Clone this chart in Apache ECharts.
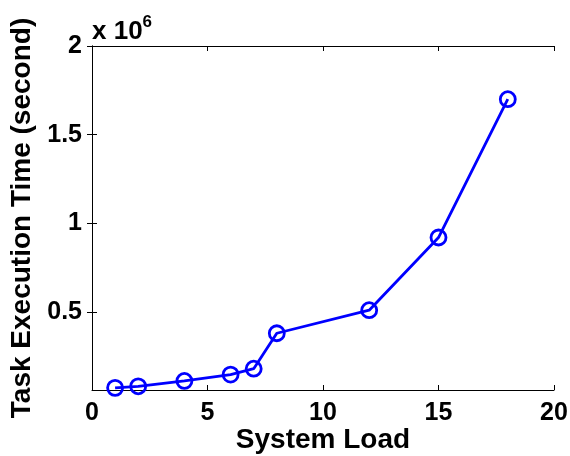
<!DOCTYPE html>
<html>
<head>
<meta charset="utf-8">
<script src="https://cdn.jsdelivr.net/npm/echarts@6/dist/echarts.min.js"></script>
<style>
  html, body { margin: 0; padding: 0; background: #fff; }
  #chart { width: 570px; height: 456px; }
</style>
</head>
<body>
<div id="chart"></div>
<script>
// System load levels and the measured task execution time (seconds)
const systemLoad = [1, 2, 4, 6, 7, 8, 12, 15, 18];
const execTime = [72000, 81000, 111000, 147000, 180000, 380000, 510000, 920000, 1700000];
const yTickValues = [500000, 1000000, 1500000, 2000000];

const FONT = '"Liberation Sans", Arial, Helvetica, sans-serif';
const BLUE = '#0000ff';

const chart = echarts.init(document.getElementById('chart'), null, { renderer: 'canvas' });

const axisLineStyle = { show: true, lineStyle: { color: '#000', width: 1 } };
const tickStyle = { show: true, inside: true, length: 5, lineStyle: { color: '#000', width: 1 } };

chart.setOption({
  animation: false,
  backgroundColor: '#fff',
  grid: { left: 92, right: 16, top: 46, bottom: 66, outerBoundsMode: 'none', containLabel: false },
  xAxis: [
    {
      type: 'value', min: 0, max: 20, interval: 5, position: 'bottom',
      name: 'System Load', nameLocation: 'middle', nameGap: 36, nameMoveOverlap: false,
      nameTextStyle: { fontFamily: FONT, fontWeight: 'bold', fontSize: 28, color: '#000' },
      axisLine: axisLineStyle,
      axisTick: tickStyle,
      splitLine: { show: false },
      axisLabel: { fontFamily: FONT, fontWeight: 'bold', fontSize: 25, color: '#000', margin: 11 }
    },
    {
      type: 'value', min: 0, max: 20, interval: 5, position: 'top',
      axisLine: axisLineStyle, axisTick: tickStyle,
      splitLine: { show: false }, axisLabel: { show: false }
    }
  ],
  yAxis: [
    {
      type: 'value', min: 60000, max: 2000000, position: 'left',
      name: 'Task Execution Time (second)', nameLocation: 'middle', nameGap: 50,
      nameTextStyle: { fontFamily: FONT, fontWeight: 'bold', fontSize: 28, color: '#000' },
      axisLine: axisLineStyle,
      axisTick: Object.assign({}, tickStyle, { customValues: yTickValues }),
      splitLine: { show: false },
      axisLabel: {
        customValues: yTickValues,
        fontFamily: FONT, fontWeight: 'bold', fontSize: 25, color: '#000', margin: 10,
        formatter: v => String(v / 1e6)
      }
    },
    {
      type: 'value', min: 60000, max: 2000000, position: 'right',
      axisLine: axisLineStyle,
      axisTick: Object.assign({}, tickStyle, { customValues: yTickValues }),
      splitLine: { show: false }, axisLabel: { show: false }
    }
  ],
  graphic: [
    {
      type: 'text', left: 92, top: 14,
      style: {
        text: '{b|x 10}{s|6}',
        rich: {
          b: { fontFamily: FONT, fontWeight: 'bold', fontSize: 26, fill: '#000', verticalAlign: 'bottom', lineHeight: 30 },
          s: { fontFamily: FONT, fontWeight: 'bold', fontSize: 17, fill: '#000', verticalAlign: 'top', padding: [0, 0, 14, 0] }
        }
      }
    }
  ],
  series: [
    {
      type: 'line',
      data: systemLoad.map((x, i) => [x, execTime[i]]),
      clip: false,
      symbol: 'circle',
      symbolSize: 15,
      lineStyle: { color: BLUE, width: 2.8 },
      itemStyle: { color: 'rgba(0,0,0,0)', borderColor: BLUE, borderWidth: 2.8 },
      emphasis: { disabled: true }
    }
  ]
});
</script>
</body>
</html>
